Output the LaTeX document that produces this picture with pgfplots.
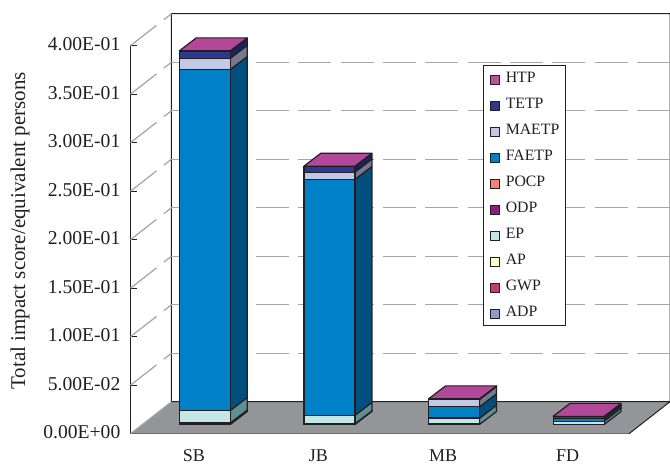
\documentclass[border=0pt]{standalone}
\usepackage{pgfplots}
\usepackage{pgfplotstable}
\usepackage{fontspec}
\setmainfont{Liberation Serif}
\pgfplotsset{compat=1.18}

% Front colours of the impact categories
\definecolor{edge}{HTML}{231F20}
\definecolor{floorgrey}{HTML}{939598}
\definecolor{gridgrey}{HTML}{A6A6A6}
\definecolor{cADP}{HTML}{8F9BD0}
\definecolor{cGWP}{HTML}{C53C7A}
\definecolor{cAP}{HTML}{FFFFCC}
\definecolor{cEP}{HTML}{C4E6E6}
\definecolor{cODP}{HTML}{8A1E82}
\definecolor{cPOCP}{HTML}{F58273}
\definecolor{cFAETP}{HTML}{0080C6}
\definecolor{cMAETP}{HTML}{C1C9E6}
\definecolor{cTETP}{HTML}{2B3990}
\definecolor{cHTP}{HTML}{C0509F}
% Shaded side and top colours
\definecolor{sEP}{HTML}{5F9090}
\definecolor{sFAETP}{HTML}{004F7F}
\definecolor{sMAETP}{HTML}{75788F}
\definecolor{sTETP}{HTML}{1A2360}
\definecolor{tHTP}{HTML}{B2489A}

% Contribution of each category, by product system
\pgfplotstableread{
x ADP    GWP    AP     EP     ODP    POCP   FAETP  MAETP  TETP   HTP
0 0.0002 0.0012 0.0002 0.0128 0.0000 0.0001 0.3515 0.0116 0.0073 0.0003
1 0.0001 0.0005 0.0001 0.0086 0.0000 0.0001 0.2432 0.0076 0.0058 0.0003
2 0.0001 0.0003 0.0001 0.0060 0.0008 0.0000 0.0109 0.0076 0.0004 0.0002
3 0.0001 0.0002 0.0000 0.0031 0.0000 0.0000 0.0025 0.0003 0.0020 0.0002
}\impact

% Receding side of one layer: bar index, lower level, upper level, colour
\newcommand\sideface[4]{%
  \pgfmathsetmacro\xa{#1+0.2047}%
  \pgfmathsetmacro\xb{#1+0.3411}%
  \pgfmathsetmacro\ya{#2+0.0134}%
  \pgfmathsetmacro\yb{#3+0.0134}%
  \addplot[draw=edge,line width=1.2pt,line join=round,fill=#4]
    coordinates {(\xa,#2) (\xb,\ya) (\xb,\yb) (\xa,#3)} -- cycle;
}
% Top of one bar: bar index, total height
\newcommand\topface[2]{%
  \pgfmathsetmacro\xa{#1-0.2047}%
  \pgfmathsetmacro\xb{#1+0.2047}%
  \pgfmathsetmacro\xc{#1-0.0683}%
  \pgfmathsetmacro\xd{#1+0.3411}%
  \pgfmathsetmacro\yb{#2+0.0134}%
  \addplot[draw=edge,line width=1.2pt,line join=round,fill=tHTP]
    coordinates {(\xa,#2) (\xc,\yb) (\xd,\yb) (\xb,#2)} -- cycle;
}

\tikzset{wallgrid/.style={draw=gridgrey,line width=1.25pt,dash pattern=on 33pt off 9.3pt}}

\begin{document}
\begin{tikzpicture}[x=1pt,y=1pt]
\useasboundingbox (0,0) rectangle (670,464);

% Frame: value axis, floor, walls and grid
\begin{axis}[
  at={(130.5pt,30.3pt)},anchor=south west,
  scale only axis,width=498.5pt,height=388pt,
  xmin=-0.5,xmax=3.5,ymin=0,ymax=0.4,
  clip=false,
  axis x line*=bottom,axis y line*=left,
  axis line style={-,draw=edge,line width=1.2pt},
  tick align=inside,
  major tick length=6pt,
  tick style={draw=edge,line width=1.1pt},
  xtick={-0.5,0.5,1.5,2.5,3.5},
  xticklabels={SB,JB,MB,FD},
  x tick label as interval,
  ytick={0,0.05,0.1,0.15,0.2,0.25,0.3,0.35,0.4},
  yticklabels={0.00E+00,5.00E-02,1.00E-01,1.50E-01,2.00E-01,2.50E-01,3.00E-01,3.50E-01,4.00E-01},
  yticklabel style={font=\fontsize{19.6}{21}\selectfont,text=edge,inner sep=0pt,xshift=-10pt,yshift=1.5pt},
  xticklabel style={font=\fontsize{18}{20}\selectfont,text=edge,inner sep=0pt,yshift=-16pt,xshift=1pt},
  ylabel={Total impact score/equivalent persons},
  every axis y label/.style={at={(axis description cs:-0.2217,0.523)},rotate=90,anchor=center},
  ylabel style={font=\fontsize{21}{23}\selectfont,text=edge},
]
  \fill[floorgrey] (axis cs:-0.5,0) -- (axis cs:3.5,0) -- ++(41pt,32pt) -- ++(-498.5pt,0pt) -- cycle;
  \draw[edge,line width=1pt] (axis cs:3.5,0) -- ++(41pt,32pt) -- ++(-498.5pt,0pt) -- ++(0pt,388pt) -- ++(498.5pt,0pt) -- ++(0pt,-388pt);
  \draw[gridgrey,line width=1.1pt] (axis cs:-0.5,0) -- ++(41pt,32pt);
  \draw[wallgrid] (axis cs:-0.5,0.4) -- ++(41pt,32pt);
  \pgfplotsinvokeforeach{0.05,0.1,0.15,0.2,0.25,0.3,0.35}{
    \draw[wallgrid] (axis cs:-0.5,#1) -- ++(41pt,32pt);
    \draw[wallgrid] (axis cs:-0.5,#1) ++(41pt,32pt) -- ++(498.5pt,0pt);
  }
\end{axis}

% Sides and tops of the bars
\begin{axis}[
  at={(142.5pt,39.5pt)},anchor=south west,
  scale only axis,width=498.4pt,height=388pt,
  xmin=-0.5,xmax=3.5,ymin=0,ymax=0.4,
  clip=false,hide axis,
]
  \sideface{0}{0}{0.0016}{sEP}
  \sideface{0}{0.0016}{0.0145}{sEP}
  \sideface{0}{0.0145}{0.3660}{sFAETP}
  \sideface{0}{0.3660}{0.3776}{sMAETP}
  \sideface{0}{0.3776}{0.3849}{sTETP}
  \topface{0}{0.3852}
  \sideface{1}{0}{0.0007}{sEP}
  \sideface{1}{0.0007}{0.0094}{sEP}
  \sideface{1}{0.0094}{0.2526}{sFAETP}
  \sideface{1}{0.2526}{0.2602}{sMAETP}
  \sideface{1}{0.2602}{0.2660}{sTETP}
  \topface{1}{0.2663}
  \sideface{2}{0}{0.0065}{sEP}
  \sideface{2}{0.0065}{0.0182}{sFAETP}
  \sideface{2}{0.0182}{0.0258}{sMAETP}
  \sideface{2}{0.0258}{0.0262}{sTETP}
  \topface{2}{0.0264}
  \sideface{3}{0}{0.0034}{sEP}
  \sideface{3}{0.0034}{0.0059}{sFAETP}
  \sideface{3}{0.0059}{0.0062}{sMAETP}
  \sideface{3}{0.0062}{0.0082}{sTETP}
  \topface{3}{0.0084}
\end{axis}

% Stacked front faces and legend
\begin{axis}[
  at={(142.5pt,39.5pt)},anchor=south west,
  scale only axis,width=498.4pt,height=388pt,
  xmin=-0.5,xmax=3.5,ymin=0,ymax=0.4,
  clip=false,hide axis,
  ybar stacked,bar width=0.4093,
  every axis plot/.append style={draw=edge,line width=1.2pt},
  reverse legend,
  legend cell align=left,
  legend image code/.code={\draw[#1,line width=0.9pt] (0pt,-5.5pt) rectangle (9pt,3.5pt);},
  legend style={
    at={(0.684,0.9253)},anchor=north west,
    draw=edge,line width=0.9pt,fill=white,
    inner xsep=6pt,inner ysep=7pt,
    row sep=14pt,
    font=\fontsize{15.8}{17}\selectfont,
    nodes={text height=10pt,text depth=2pt,inner sep=0pt,text=edge},
    /tikz/every odd column/.append style={column sep=6pt},
  },
]
  \addplot[fill=cADP] table[x=x,y=ADP]{\impact};
  \addlegendentry{ADP}
  \addplot[fill=cGWP] table[x=x,y=GWP]{\impact};
  \addlegendentry{GWP}
  \addplot[fill=cAP] table[x=x,y=AP]{\impact};
  \addlegendentry{AP}
  \addplot[fill=cEP] table[x=x,y=EP]{\impact};
  \addlegendentry{EP}
  \addplot[fill=cODP] table[x=x,y=ODP]{\impact};
  \addlegendentry{ODP}
  \addplot[fill=cPOCP] table[x=x,y=POCP]{\impact};
  \addlegendentry{POCP}
  \addplot[fill=cFAETP] table[x=x,y=FAETP]{\impact};
  \addlegendentry{FAETP}
  \addplot[fill=cMAETP] table[x=x,y=MAETP]{\impact};
  \addlegendentry{MAETP}
  \addplot[fill=cTETP] table[x=x,y=TETP]{\impact};
  \addlegendentry{TETP}
  \addplot[fill=cHTP] table[x=x,y=HTP]{\impact};
  \addlegendentry{HTP}
\end{axis}
\end{tikzpicture}
\end{document}
